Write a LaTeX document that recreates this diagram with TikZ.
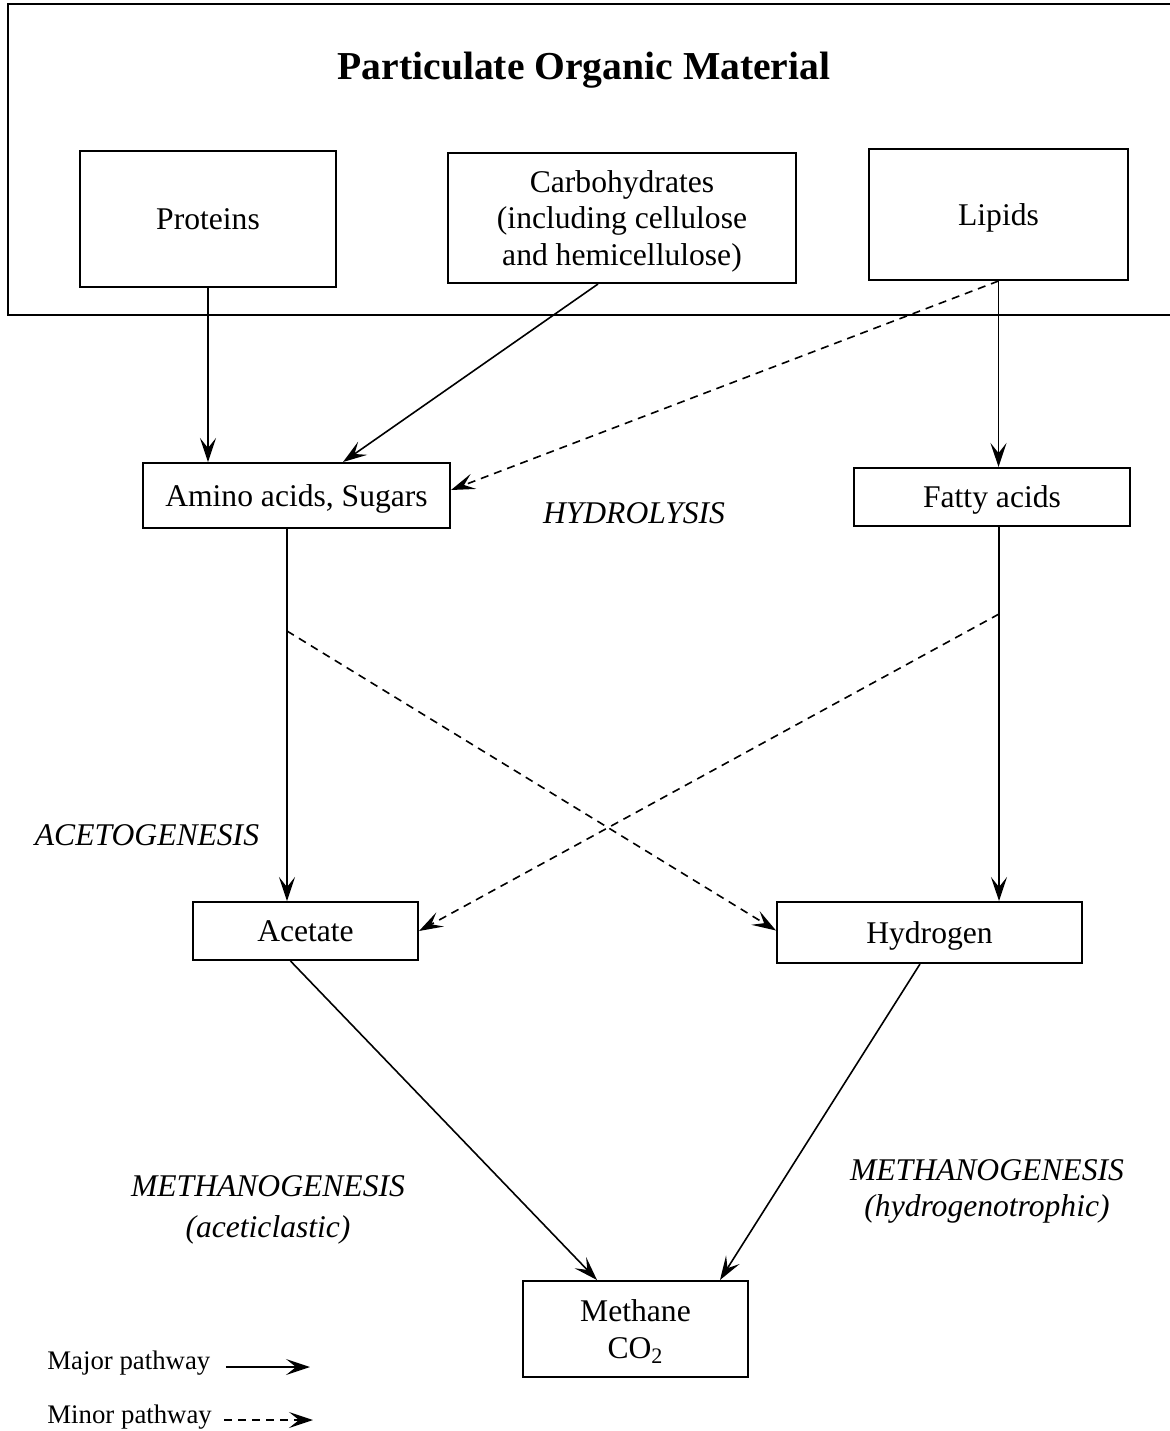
\documentclass[tikz,border=0pt]{standalone}
\usepackage{fontspec}
\setmainfont{Liberation Serif}
\usetikzlibrary{arrows.meta,calc}
\tikzset{
  proc/.style={rectangle, draw, line width=1pt, inner sep=0pt, align=center,
               text depth=0pt, font=\fontsize{15.8}{18.3}\selectfont},
  flow/.style={-{Stealth[length=12pt,width=8pt,inset=5pt]}, line width=0.8pt},
  minor/.style={flow, dash pattern=on 4pt off 3pt},
  phase/.style={align=center, inner sep=0pt, font=\fontsize{15.8}{18}\selectfont\itshape},
  key/.style={anchor=west, inner sep=0pt, font=\fontsize{13.4}{16}\selectfont},
}

\begin{document}
\begin{tikzpicture}[x=0.5pt, y=-0.5pt]
  \useasboundingbox (0,0) rectangle (1170,1431);
  \begin{scope}
    \clip (0,0) rectangle (1170,1431);
    \draw[line width=1pt] (8,4) rectangle (1200,315);
  \end{scope}
  \node[font=\fontsize{19.8}{22}\selectfont\bfseries] (pom) at (584,70) {Particulate Organic Material};

  \node[proc, minimum width=128pt, minimum height=68pt] (prot) at (208,219) {Proteins};
  \node[proc, minimum width=174pt, minimum height=65pt] (carb) at (622,218)
    {Carbohydrates\\(including cellulose\\and hemicellulose)};
  \node[proc, minimum width=129.5pt, minimum height=65.5pt] (lip) at (998.5,214.5) {Lipids};
  \node[proc, minimum width=153.5pt, minimum height=32.5pt] (amino) at (296.5,495.5) {Amino acids, Sugars};
  \node[proc, minimum width=138pt, minimum height=29pt] (fatty) at (992,497) {Fatty acids};
  \node[proc, minimum width=112.5pt, minimum height=29pt] (acet) at (305.5,931) {Acetate};
  \node[proc, minimum width=152.5pt, minimum height=30.5pt] (hydro) at (929.5,932.5) {Hydrogen};
  \node[proc, minimum width=112.5pt, minimum height=48pt] (meth) at (635.5,1329) {Methane\\CO\textsubscript{2}};

  \node[phase] (hyd) at (634,513) {HYDROLYSIS};
  \node[phase] (aceto) at (147,835) {ACETOGENESIS};
  \node[phase, font=\fontsize{15.8}{20.5}\selectfont\itshape] (mac) at (268,1210) {METHANOGENESIS\\(aceticlastic)};
  \node[phase] (mhy) at (987,1191) {METHANOGENESIS\\(hydrogenotrophic)};

  \coordinate (a1) at ($(amino.south)+(-9.5,0)$);
  \coordinate (f1) at ($(fatty.south)+(7,0)$);

  \draw[flow] (prot.south) -- (prot.south |- amino.north);
  \draw[flow] ($(carb.south)+(-24,0)$) -- ($(amino.north)+(46.5,0)$);
  \draw[minor] (lip.south) -- ($(amino.east)+(0,-5.5)$);
  \draw[flow] (lip.south) -- (lip.south |- fatty.north);
  \draw[flow] (a1) -- (a1 |- acet.north);
  \draw[flow] (f1) -- (f1 |- hydro.north);
  \draw[minor] ($(a1)+(0,102)$) -- ($(hydro.west)+(0,-2)$);
  \draw[minor] ($(f1)+(0,87)$) -- (acet.east);
  \draw[flow] ($(acet.south)+(-15,0)$) -- ($(meth.north)+(-38.5,0)$);
  \draw[flow] ($(hydro.south)+(-9.5,0)$) -- ($(meth.north)+(84.5,0)$);

  \node[key] (major) at (47,1363) {Major pathway};
  \node[key] (minor) at (47,1417) {Minor pathway};
  \coordinate (majend) at (310,1367);
  \coordinate (minend) at (313,1420);
  \draw[flow] ($(major.east |- majend)+(15,0)$) -- (majend);
  \draw[minor] ($(minor.east |- minend)+(12,0)$) -- (minend);
\end{tikzpicture}
\end{document}
